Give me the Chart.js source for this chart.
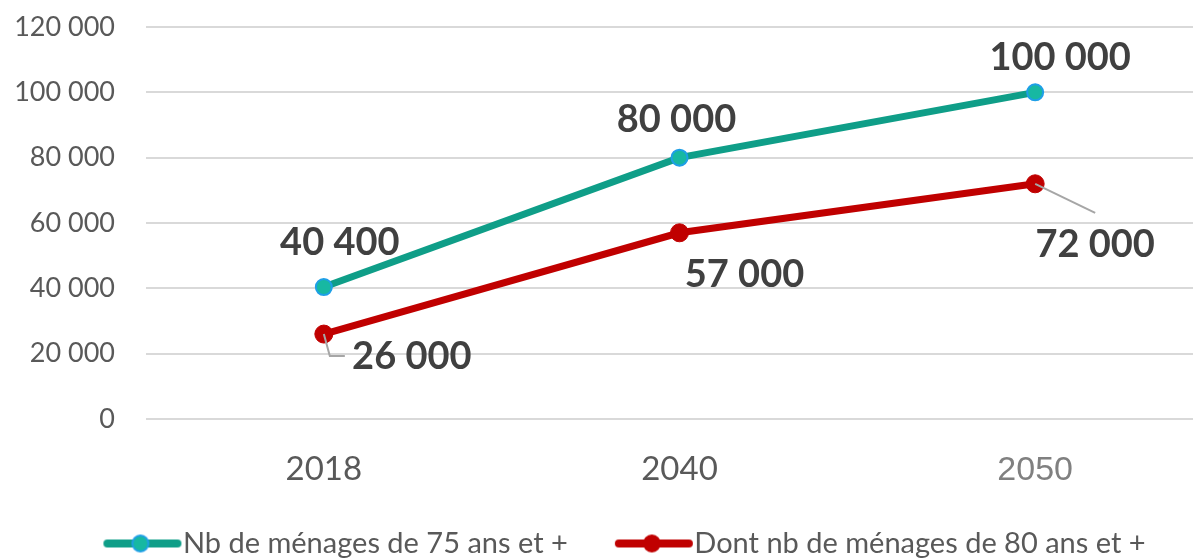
<!DOCTYPE html>
<html>
<head>
<meta charset="utf-8">
<script src="https://cdn.jsdelivr.net/npm/chart.js@4.4.1/dist/chart.umd.min.js"></script>
<style>
  html, body { margin: 0; padding: 0; overflow: hidden; background: #fff; }
</style>
</head>
<body>
<canvas id="myChart" width="1223" height="558"></canvas>
<script>
const years = ['2018', '2040', '2050'];
const menages75 = [40400, 80000, 100000];
const menages80 = [26000, 57000, 72000];
const seriesNames = ['Nb de ménages de 75 ans et +', 'Dont nb de ménages de 80 ans et +'];
const yMin = 0;
const yMax = 120000;
const yStep = 20000;

// label offsets (px from the point) and leader lines, per series
const labelOffsets = [
    [[16, -44], [-3, -38], [25, -35]],
    [[88, 23], [65, 42], [60, 61]]
];
const leaders = [
    [null, null, null],
    [[[0, 0], [6, 22], [21, 22]], null, [[0, 0], [60, 29]]]
];
// the legend sits a bit right of centre and close under the axis labels
const legendDx = 12;
const legendDy = -22;

const fmt = v => String(v).replace(/\B(?=(\d{3})+(?!\d))/g, ' ');

function legendIcon(line, fill, border) {
    const c = document.createElement('canvas');
    c.width = 80; c.height = 24;
    const g = c.getContext('2d');
    g.strokeStyle = line; g.lineWidth = 8; g.lineCap = 'round';
    g.beginPath(); g.moveTo(5, 12); g.lineTo(75, 12); g.stroke();
    g.beginPath(); g.arc(38, 12, 8, 0, Math.PI * 2);
    g.fillStyle = fill; g.fill();
    g.lineWidth = 2; g.strokeStyle = border; g.stroke();
    return c;
}
const icons = [
    legendIcon('#0f9e88', '#17b8a2', '#1e9fe6'),
    legendIcon('#c00000', '#c00000', '#c00000')
];

const valueLabels = {
    id: 'valueLabels',
    afterDatasetsDraw(chart) {
        const ctx = chart.ctx;
        ctx.save();
        chart.data.datasets.forEach((ds, di) => {
            const meta = chart.getDatasetMeta(di);
            meta.data.forEach((pt, i) => {
                const lead = leaders[di][i];
                if (lead) {
                    ctx.strokeStyle = '#a6a6a6';
                    ctx.lineWidth = 2;
                    ctx.beginPath();
                    lead.forEach((p, k) => {
                        if (k === 0) ctx.moveTo(pt.x + p[0], pt.y + p[1]);
                        else ctx.lineTo(pt.x + p[0], pt.y + p[1]);
                    });
                    ctx.stroke();
                }
                const off = labelOffsets[di][i];
                ctx.font = 'bold 38px Lato';
                ctx.fillStyle = '#404040';
                ctx.textAlign = 'center';
                ctx.textBaseline = 'middle';
                ctx.fillText(fmt(ds.data[i]), pt.x + off[0], pt.y + off[1]);
            });
        });
        ctx.restore();
    }
};

// legend clips to its own box, so only move the top edge up
const legendShift = {
    id: 'legendShift',
    afterLayout(chart) {
        const lg = chart.legend;
        lg.left += legendDx; lg.right += legendDx;
        lg.top += legendDy;
    }
};

const ctx = document.getElementById('myChart');
const myChart = new Chart(ctx, {
    type: 'line',
    data: {
        labels: years,
        datasets: [{
            label: seriesNames[0],
            data: menages75,
            borderColor: '#0f9e88',
            borderWidth: 7,
            pointRadius: 8,
            pointBorderWidth: 2,
            pointBackgroundColor: '#17b8a2',
            pointBorderColor: '#1e9fe6',
            tension: 0
        }, {
            label: seriesNames[1],
            data: menages80,
            borderColor: '#c00000',
            borderWidth: 7,
            pointRadius: 9,
            pointBorderWidth: 1,
            pointBackgroundColor: '#c00000',
            pointBorderColor: '#c00000',
            tension: 0
        }]
    },
    options: {
        responsive: false,
        animation: false,
        layout: {
            padding: { top: 27, left: 15, right: 0, bottom: 0 }
        },
        scales: {
            x: {
                offset: true,
                grid: { display: false, drawTicks: false },
                border: { display: false },
                ticks: {
                    padding: 31,
                    color: c => c.index === 2 ? '#808080' : '#595959',
                    font: c => c.index === 2 ? { family: 'Liberation Sans', size: 34 } : { family: 'Lato', size: 33 }
                },
                afterFit(scale) { scale.height = 72; }
            },
            y: {
                min: yMin,
                max: yMax,
                grid: { color: '#d9d9d9', lineWidth: 2, drawTicks: false },
                border: { display: false },
                ticks: {
                    stepSize: yStep,
                    padding: 31,
                    color: '#595959',
                    font: { family: 'Lato', size: 27 },
                    callback: v => fmt(v)
                },
                afterFit(scale) {
                    scale.width = 131;
                    scale.paddingTop = 0;
                    scale.paddingBottom = 0;
                }
            }
        },
        plugins: {
            tooltip: { enabled: false },
            legend: {
                position: 'bottom',
                maxHeight: 67,
                labels: {
                    usePointStyle: true,
                    pointStyleWidth: 52,
                    padding: 60,
                    color: '#595959',
                    font: { family: 'Lato', size: 29 },
                    generateLabels(chart) {
                        const items = Chart.defaults.plugins.legend.labels.generateLabels(chart);
                        items.forEach((it, i) => { it.pointStyle = icons[i]; });
                        return items;
                    }
                }
            }
        }
    },
    plugins: [valueLabels, legendShift]
});
</script>
</body>
</html>
